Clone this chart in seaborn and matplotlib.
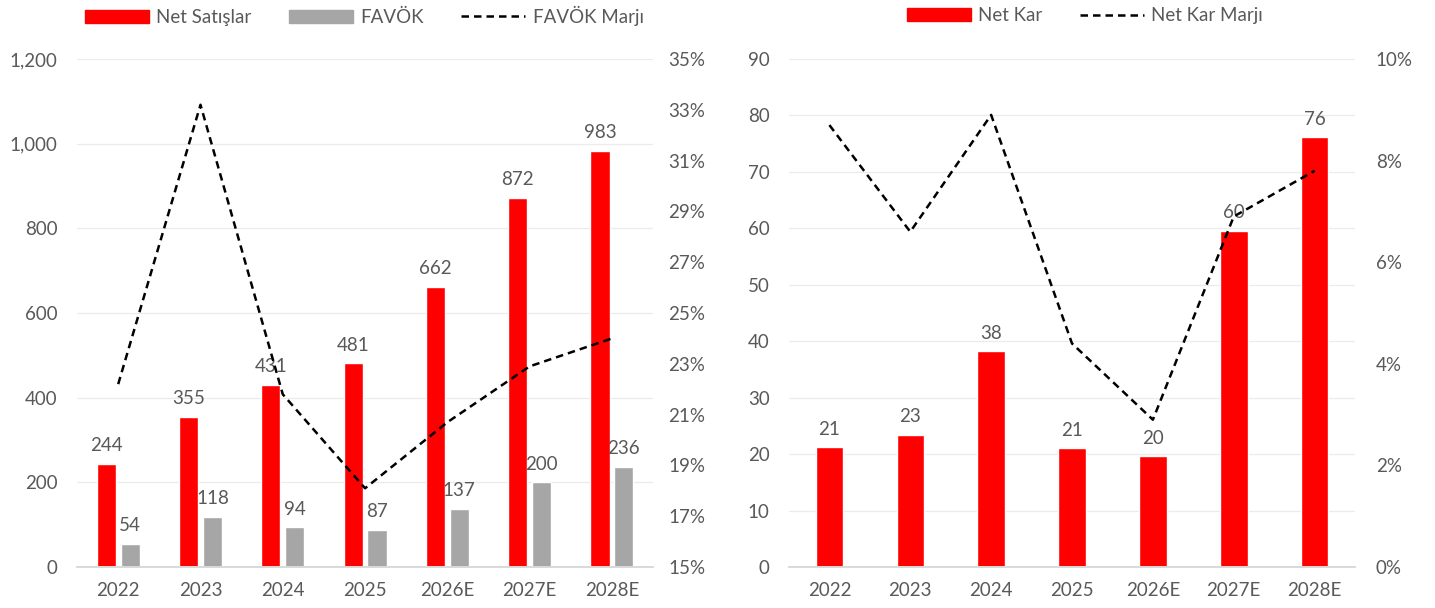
import numpy as np
import pandas as pd
import matplotlib
matplotlib.use('Agg')
import matplotlib.pyplot as plt
import seaborn as sns
from matplotlib.patches import Patch
from matplotlib.lines import Line2D
from matplotlib.ticker import FuncFormatter, MultipleLocator, FixedLocator

# Data
years = ['2022', '2023', '2024', '2025', '2026E', '2027E', '2028E']
net_satislar = [244, 355, 431, 481, 662, 872, 983]
favok = [54, 118, 94, 87, 137, 200, 236]
favok_marji = [0.222, 0.332, 0.218, 0.181, 0.207, 0.229, 0.240]
net_kar = [21.2, 23.4, 38.2, 21.0, 19.6, 59.6, 76.1]
net_kar_marji = [0.087, 0.066, 0.089, 0.044, 0.029, 0.069, 0.078]

RED = '#FF0000'
GREY = '#A6A6A6'
TXT = '#595959'
FS = 13.5

sns.set_theme(style='white')
plt.rcParams['font.family'] = ['Lato', 'DejaVu Sans']
plt.rcParams['text.color'] = TXT
plt.rcParams['xtick.color'] = TXT
plt.rcParams['ytick.color'] = TXT

fig = plt.figure(figsize=(14.35, 6.08), dpi=100)
ax1 = fig.add_axes([0.0537, 0.0674, 0.4014, 0.8355])
ax3 = fig.add_axes([0.5498, 0.0674, 0.3945, 0.8355])

# ---- left chart: Net Satışlar / FAVÖK ----
df_left = pd.DataFrame({
    'Yıl': years * 2,
    'Değer': net_satislar + favok,
    'Seri': ['Net Satışlar'] * len(years) + ['FAVÖK'] * len(years),
})
sns.barplot(data=df_left, x='Yıl', y='Değer', hue='Seri', order=years,
            palette=[RED, GREY], width=0.58, gap=0.2, legend=False,
            saturation=1, ax=ax1)
for cont in ax1.containers:
    labels = [f'{v:.0f}' for v in cont.datavalues]
    ax1.bar_label(cont, labels=labels, padding=7, fontsize=FS, color=TXT)

ax2 = ax1.twinx()
sns.lineplot(x=np.arange(len(years)), y=favok_marji, ax=ax2, color='black',
             linewidth=1.8, linestyle=(0, (3, 2)), legend=False)
ax1.set_ylim(0, 1200)
ax1.yaxis.set_major_locator(MultipleLocator(200))
ax1.yaxis.set_major_formatter(FuncFormatter(lambda v, p: f'{v:,.0f}'))
ax2.set_ylim(0.15, 0.35)
ax2.yaxis.set_major_locator(FixedLocator(np.linspace(0.15, 0.35, 11)))
ax2.yaxis.set_major_formatter(FuncFormatter(lambda v, p: f'{v*100:.0f}%'))

# ---- right chart: Net Kar ----
df_right = pd.DataFrame({'Yıl': years, 'Net Kar': net_kar})
sns.barplot(data=df_right, x='Yıl', y='Net Kar', order=years, color=RED,
            saturation=1, width=0.34, ax=ax3)
for cont in ax3.containers:
    labels = [f'{v:.0f}' for v in cont.datavalues]
    ax3.bar_label(cont, labels=labels, padding=7, fontsize=FS, color=TXT)

ax4 = ax3.twinx()
sns.lineplot(x=np.arange(len(years)), y=net_kar_marji, ax=ax4, color='black',
             linewidth=1.8, linestyle=(0, (3, 2)), legend=False)
ax3.set_ylim(0, 90)
ax3.yaxis.set_major_locator(MultipleLocator(10))
ax4.set_ylim(0, 0.10)
ax4.yaxis.set_major_locator(FixedLocator(np.linspace(0, 0.10, 6)))
ax4.yaxis.set_major_formatter(FuncFormatter(lambda v, p: f'{v*100:.0f}%'))

# common styling
for a in (ax1, ax3):
    a.set_xlim(-0.5, len(years) - 0.5)
    a.yaxis.grid(True, color='#EBEBEB', linewidth=0.9)
    a.set_axisbelow(True)
    a.tick_params(axis='y', length=0, pad=14, labelsize=FS)
    a.tick_params(axis='x', length=0, pad=11, labelsize=FS)
for a in (ax2, ax4):
    a.tick_params(axis='y', length=0, pad=11, labelsize=FS)
for a in (ax1, ax2, ax3, ax4):
    a.set_xlabel('')
    a.set_ylabel('')
    for s in ('top', 'left', 'right'):
        a.spines[s].set_visible(False)
    a.spines['bottom'].set_color('#D9D9D9')
    a.spines['bottom'].set_linewidth(1.2)
ax4.tick_params(axis='y', pad=15)

# legends
dash = (0, (3, 2))
h_left = [Patch(color=RED, label='Net Satışlar'),
          Patch(color=GREY, label='FAVÖK'),
          Line2D([], [], color='black', lw=1.8, linestyle=dash, label='FAVÖK Marjı')]
fig.legend(handles=h_left, loc='center', bbox_to_anchor=(0.254, 0.974), ncol=3,
           frameon=False, fontsize=FS, handlelength=3.4, handleheight=0.7,
           columnspacing=2.0, handletextpad=0.4)
h_right = [Patch(color=RED, label='Net Kar'),
           Line2D([], [], color='black', lw=1.8, linestyle=dash, label='Net Kar Marjı')]
fig.legend(handles=h_right, loc='center', bbox_to_anchor=(0.756, 0.974), ncol=2,
           frameon=False, fontsize=FS, handlelength=3.4, handleheight=0.7,
           columnspacing=2.0, handletextpad=0.4)

fig.savefig('out.png', dpi=100)
